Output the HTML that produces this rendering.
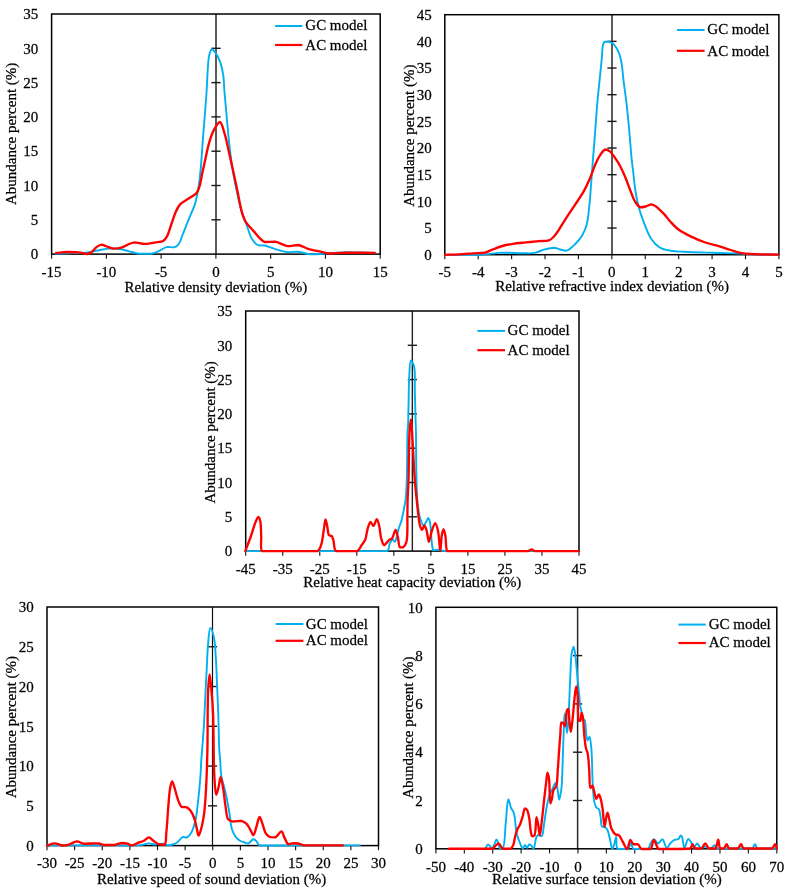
<!DOCTYPE html>
<html><head><meta charset="utf-8"><style>
html,body{margin:0;padding:0;background:#fff;width:794px;height:889px;overflow:hidden}
svg{display:block;will-change:transform}
text{font-family:"Liberation Serif", serif;font-size:15px;fill:#000;stroke:#000;stroke-width:0.25px}
</style></head><body>
<svg width="794" height="889" viewBox="0 0 794 889">
<line x1="216.00" y1="14.00" x2="216.00" y2="254.10" stroke="#5c5c5c" stroke-width="2.0"/>
<line x1="211.40" y1="219.80" x2="220.60" y2="219.80" stroke="#1a1a1a" stroke-width="1.4"/>
<line x1="211.40" y1="185.50" x2="220.60" y2="185.50" stroke="#1a1a1a" stroke-width="1.4"/>
<line x1="211.40" y1="151.20" x2="220.60" y2="151.20" stroke="#1a1a1a" stroke-width="1.4"/>
<line x1="211.40" y1="116.90" x2="220.60" y2="116.90" stroke="#1a1a1a" stroke-width="1.4"/>
<line x1="211.40" y1="82.60" x2="220.60" y2="82.60" stroke="#1a1a1a" stroke-width="1.4"/>
<line x1="211.40" y1="48.30" x2="220.60" y2="48.30" stroke="#1a1a1a" stroke-width="1.4"/>
<line x1="51.60" y1="254.10" x2="51.60" y2="258.70" stroke="#111" stroke-width="1.1"/>
<line x1="106.37" y1="254.10" x2="106.37" y2="258.70" stroke="#111" stroke-width="1.1"/>
<line x1="161.13" y1="254.10" x2="161.13" y2="258.70" stroke="#111" stroke-width="1.1"/>
<line x1="215.90" y1="254.10" x2="215.90" y2="258.70" stroke="#111" stroke-width="1.1"/>
<line x1="270.67" y1="254.10" x2="270.67" y2="258.70" stroke="#111" stroke-width="1.1"/>
<line x1="325.43" y1="254.10" x2="325.43" y2="258.70" stroke="#111" stroke-width="1.1"/>
<line x1="380.20" y1="254.10" x2="380.20" y2="258.70" stroke="#111" stroke-width="1.1"/>
<rect x="51.60" y="14.00" width="328.60" height="240.10" fill="none" stroke="#000" stroke-width="1.5"/>
<path d="M56.20,253.90 C61.70,253.63 67.36,253.36 72.70,253.10 C77.74,252.86 82.96,252.92 87.40,252.40 C91.13,251.97 94.20,251.13 97.60,250.50 C101.00,249.87 104.39,248.88 107.80,248.60 C111.19,248.60 114.53,248.39 118.00,248.80 C121.69,249.24 125.67,250.45 129.30,251.30 C132.69,252.09 135.63,253.28 139.10,253.70 C142.89,253.70 147.52,253.70 151.20,253.70 C154.48,253.12 157.44,251.61 160.20,250.40 C162.66,249.32 164.66,247.38 167.00,246.90 C169.21,246.90 171.82,247.40 173.80,247.40 C175.56,246.98 177.07,246.14 178.40,244.60 C180.34,242.35 181.32,237.86 182.90,234.00 C184.78,229.42 186.88,223.92 188.90,218.90 C190.91,213.89 193.45,208.89 195.00,203.90 C196.46,199.19 197.22,194.86 198.10,189.80 C199.11,183.98 199.78,178.01 200.50,170.90 C201.43,161.74 202.04,150.49 202.90,139.40 C203.86,127.00 205.35,108.92 206.00,100.00 C206.33,95.42 206.46,93.59 206.70,89.60 C207.02,84.19 207.25,76.50 207.70,70.50 C208.10,65.14 208.23,59.16 209.20,55.30 C209.83,52.78 210.55,49.58 211.70,49.30 C212.67,49.30 214.15,50.84 215.30,52.30 C217.08,54.56 218.99,58.73 220.30,62.40 C221.73,66.41 222.63,71.03 223.30,75.50 C223.98,80.09 223.96,85.26 224.30,89.60 C224.59,93.33 224.83,95.83 225.20,100.00 C225.75,106.28 226.57,115.73 227.30,123.60 C228.03,131.47 228.69,139.33 229.60,147.20 C230.52,155.10 231.49,163.03 232.80,170.90 C234.12,178.80 235.84,187.09 237.50,194.50 C238.99,201.17 240.44,207.78 242.20,213.40 C243.67,218.07 245.42,221.80 247.00,226.00 C248.58,230.20 249.65,235.26 251.70,238.60 C253.35,241.29 255.29,243.89 257.60,245.00 C259.69,246.00 262.13,244.98 264.70,245.50 C267.92,246.15 271.61,248.03 275.30,249.10 C279.22,250.24 283.63,251.70 287.60,252.10 C291.24,252.10 294.56,251.70 298.20,251.70 C302.17,252.05 306.37,254.05 310.50,254.40 C314.60,254.40 318.93,254.05 322.90,253.80 C326.57,253.57 329.83,253.26 333.50,253.00 C337.45,252.72 341.33,252.29 345.80,252.20 C351.14,252.20 358.14,252.45 363.40,252.60 C367.67,252.72 371.13,252.87 375.00,253.00" fill="none" stroke="#00B0F0" stroke-width="1.9" stroke-linejoin="round" stroke-linecap="round"/>
<path d="M56.20,253.00 C59.80,252.67 63.36,252.10 67.00,252.00 C70.72,252.00 74.75,252.03 78.30,252.40 C81.51,252.74 85.02,254.00 87.40,254.00 C89.04,253.79 90.07,253.12 91.40,252.20 C93.11,251.02 94.69,248.40 96.50,247.10 C98.11,245.95 99.88,244.69 101.60,244.60 C103.28,244.60 104.87,245.88 106.70,246.50 C108.79,247.21 111.12,248.38 113.50,248.60 C116.01,248.60 118.82,248.43 121.40,247.70 C124.10,246.94 126.91,244.92 129.30,244.00 C131.19,243.27 132.44,242.56 134.50,242.40 C137.39,242.40 141.45,243.90 145.10,243.90 C149.00,243.89 153.87,242.68 157.20,242.10 C159.55,241.69 161.56,241.88 163.20,240.90 C164.82,239.93 165.83,238.35 167.00,236.30 C168.76,233.21 170.16,227.57 171.60,223.50 C172.91,219.80 173.84,216.16 175.30,212.90 C176.64,209.90 177.86,206.88 179.90,204.60 C181.91,202.36 184.77,201.14 187.40,199.30 C190.31,197.26 194.53,195.42 196.60,192.90 C198.32,190.80 198.84,188.52 199.70,185.80 C200.77,182.41 201.23,178.11 202.10,174.00 C203.05,169.48 204.08,164.76 205.20,159.80 C206.43,154.31 207.62,147.76 209.20,142.50 C210.58,137.92 211.92,133.49 213.90,129.90 C215.60,126.82 218.16,122.00 219.90,122.00 C221.93,122.28 223.47,130.00 224.90,134.60 C226.54,139.88 227.58,146.21 228.90,152.00 C230.21,157.77 231.46,163.18 232.80,169.30 C234.31,176.19 235.94,183.96 237.50,191.30 C239.07,198.66 240.53,207.94 242.20,213.40 C243.23,216.75 243.83,218.68 245.40,221.30 C247.28,224.42 250.27,227.41 253.20,230.60 C256.59,234.28 260.57,240.37 264.70,242.00 C268.04,242.00 271.69,241.70 275.30,241.70 C279.31,242.34 283.60,245.62 287.60,246.10 C291.21,246.10 294.72,245.00 298.20,245.00 C301.79,245.48 305.23,248.03 308.80,249.10 C312.27,250.14 315.79,250.67 319.30,251.40 C322.82,252.13 325.99,253.23 329.90,253.50 C334.65,253.50 339.70,252.75 345.80,252.60 C354.04,252.60 365.20,252.73 374.90,252.80" fill="none" stroke="#FF0000" stroke-width="2.35" stroke-linejoin="round" stroke-linecap="round"/>
<text transform="translate(38.30,259.30) scale(1,1.03)" text-anchor="end">0</text>
<text transform="translate(38.30,225.00) scale(1,1.03)" text-anchor="end">5</text>
<text transform="translate(38.30,190.70) scale(1,1.03)" text-anchor="end">10</text>
<text transform="translate(38.30,156.40) scale(1,1.03)" text-anchor="end">15</text>
<text transform="translate(38.30,122.10) scale(1,1.03)" text-anchor="end">20</text>
<text transform="translate(38.30,87.80) scale(1,1.03)" text-anchor="end">25</text>
<text transform="translate(38.30,53.50) scale(1,1.03)" text-anchor="end">30</text>
<text transform="translate(38.30,19.20) scale(1,1.03)" text-anchor="end">35</text>
<text transform="translate(51.60,276.60) scale(1,1.03)" text-anchor="middle">-15</text>
<text transform="translate(106.37,276.60) scale(1,1.03)" text-anchor="middle">-10</text>
<text transform="translate(161.13,276.60) scale(1,1.03)" text-anchor="middle">-5</text>
<text transform="translate(215.90,276.60) scale(1,1.03)" text-anchor="middle">0</text>
<text transform="translate(270.67,276.60) scale(1,1.03)" text-anchor="middle">5</text>
<text transform="translate(325.43,276.60) scale(1,1.03)" text-anchor="middle">10</text>
<text transform="translate(380.20,276.60) scale(1,1.03)" text-anchor="middle">15</text>
<text transform="translate(215.80,292.20) scale(1,1.03)" text-anchor="middle">Relative density deviation (%)</text>
<text transform="translate(16.40,133.90) rotate(-90) scale(1,1.03)" text-anchor="middle">Abundance percent (%)</text>
<line x1="275.1" y1="26.0" x2="302.3" y2="26.0" stroke="#00B0F0" stroke-width="2.0"/>
<line x1="275.1" y1="45.0" x2="302.3" y2="45.0" stroke="#FF0000" stroke-width="2.2"/>
<text transform="translate(305.3,30.3) scale(1,1.03)">GC model</text>
<text transform="translate(305.3,49.5) scale(1,1.03)">AC model</text>
<line x1="612.00" y1="14.70" x2="612.00" y2="254.70" stroke="#5c5c5c" stroke-width="2.0"/>
<line x1="607.40" y1="228.03" x2="616.60" y2="228.03" stroke="#1a1a1a" stroke-width="1.4"/>
<line x1="607.40" y1="201.37" x2="616.60" y2="201.37" stroke="#1a1a1a" stroke-width="1.4"/>
<line x1="607.40" y1="174.70" x2="616.60" y2="174.70" stroke="#1a1a1a" stroke-width="1.4"/>
<line x1="607.40" y1="148.03" x2="616.60" y2="148.03" stroke="#1a1a1a" stroke-width="1.4"/>
<line x1="607.40" y1="121.37" x2="616.60" y2="121.37" stroke="#1a1a1a" stroke-width="1.4"/>
<line x1="607.40" y1="94.70" x2="616.60" y2="94.70" stroke="#1a1a1a" stroke-width="1.4"/>
<line x1="607.40" y1="68.03" x2="616.60" y2="68.03" stroke="#1a1a1a" stroke-width="1.4"/>
<line x1="607.40" y1="41.37" x2="616.60" y2="41.37" stroke="#1a1a1a" stroke-width="1.4"/>
<line x1="444.80" y1="254.70" x2="444.80" y2="259.30" stroke="#111" stroke-width="1.1"/>
<line x1="478.21" y1="254.70" x2="478.21" y2="259.30" stroke="#111" stroke-width="1.1"/>
<line x1="511.62" y1="254.70" x2="511.62" y2="259.30" stroke="#111" stroke-width="1.1"/>
<line x1="545.03" y1="254.70" x2="545.03" y2="259.30" stroke="#111" stroke-width="1.1"/>
<line x1="578.44" y1="254.70" x2="578.44" y2="259.30" stroke="#111" stroke-width="1.1"/>
<line x1="611.85" y1="254.70" x2="611.85" y2="259.30" stroke="#111" stroke-width="1.1"/>
<line x1="645.26" y1="254.70" x2="645.26" y2="259.30" stroke="#111" stroke-width="1.1"/>
<line x1="678.67" y1="254.70" x2="678.67" y2="259.30" stroke="#111" stroke-width="1.1"/>
<line x1="712.08" y1="254.70" x2="712.08" y2="259.30" stroke="#111" stroke-width="1.1"/>
<line x1="745.49" y1="254.70" x2="745.49" y2="259.30" stroke="#111" stroke-width="1.1"/>
<line x1="778.90" y1="254.70" x2="778.90" y2="259.30" stroke="#111" stroke-width="1.1"/>
<rect x="444.80" y="14.70" width="334.10" height="240.00" fill="none" stroke="#000" stroke-width="1.5"/>
<path d="M445.00,254.90 C456.83,254.87 470.10,255.00 480.50,254.80 C488.69,254.38 495.08,252.85 502.40,252.60 C509.72,252.60 518.46,253.30 524.40,253.30 C528.45,253.29 531.25,253.53 534.60,252.90 C538.05,252.26 541.45,250.28 544.80,249.40 C547.94,248.58 551.37,247.70 554.10,247.70 C556.31,247.83 557.97,249.00 560.00,249.50 C562.10,250.01 564.29,250.70 566.50,250.70 C569.36,250.02 572.67,246.57 575.30,244.00 C577.95,241.41 580.41,238.41 582.30,235.20 C584.21,231.95 585.57,228.75 586.70,224.60 C588.18,219.18 588.67,211.81 589.40,205.20 C590.15,198.33 590.54,191.37 591.10,184.10 C591.70,176.33 592.26,168.31 592.90,160.00 C593.59,151.09 594.38,141.66 595.10,132.30 C595.84,122.70 596.51,112.13 597.30,103.10 C597.99,95.27 598.77,88.51 599.50,81.20 C600.23,73.88 601.06,65.78 601.70,59.20 C602.23,53.84 602.15,47.54 603.10,44.60 C603.56,43.19 603.95,42.18 604.80,41.70 C605.65,41.70 607.01,41.70 608.20,41.70 C609.59,41.93 611.20,42.13 612.60,43.20 C614.71,44.81 617.04,48.75 618.50,51.90 C619.98,55.08 620.61,58.21 621.40,62.20 C622.45,67.54 622.79,74.65 623.60,81.20 C624.47,88.24 625.59,95.27 626.50,103.10 C627.55,112.13 628.53,122.81 629.40,132.30 C630.22,141.32 630.88,151.75 631.60,158.70 C632.07,163.26 632.49,165.73 633.00,170.00 C633.66,175.60 634.22,183.11 635.20,189.40 C636.14,195.43 637.20,201.33 638.70,207.00 C640.15,212.48 641.95,217.66 644.00,222.90 C646.08,228.23 648.15,234.39 651.10,238.70 C653.61,242.36 656.54,245.60 659.90,247.60 C663.06,249.48 666.71,250.00 670.50,250.70 C674.71,251.48 678.75,251.49 684.10,251.80 C691.80,252.25 702.90,252.52 712.30,252.80 C721.70,253.08 732.71,253.21 740.50,253.50 C746.01,253.71 749.31,254.03 754.60,254.20 C761.42,254.41 770.20,254.40 778.00,254.50" fill="none" stroke="#00B0F0" stroke-width="1.9" stroke-linejoin="round" stroke-linecap="round"/>
<path d="M445.00,254.80 C449.53,254.63 453.99,254.54 458.60,254.30 C463.38,254.05 468.60,253.60 473.20,253.30 C477.32,253.04 481.51,253.35 484.90,252.60 C487.68,251.98 489.56,250.70 492.20,249.70 C495.31,248.52 498.96,246.99 502.40,246.00 C505.79,245.03 509.04,244.38 512.70,243.80 C516.79,243.15 521.42,242.83 525.80,242.40 C530.19,241.97 534.93,241.57 539.00,241.20 C542.51,240.88 546.30,241.18 548.80,240.30 C550.59,239.67 551.66,238.73 553.00,237.50 C554.62,236.01 555.89,234.11 557.60,231.70 C560.17,228.08 563.51,222.20 566.50,217.60 C569.41,213.11 572.39,208.86 575.30,204.40 C578.26,199.87 581.57,195.14 584.10,190.60 C586.41,186.45 588.19,182.50 590.00,178.30 C591.83,174.04 593.21,169.23 595.00,165.20 C596.60,161.60 598.19,157.96 600.10,155.20 C601.69,152.91 603.44,149.90 605.30,149.50 C606.85,149.50 608.70,150.43 610.20,151.60 C612.07,153.06 613.58,155.86 615.20,158.20 C616.92,160.70 618.61,163.26 620.20,166.20 C622.00,169.55 623.67,173.42 625.30,177.30 C627.05,181.46 628.59,186.18 630.30,190.40 C631.93,194.40 633.32,199.01 635.30,202.00 C636.81,204.28 638.52,206.67 640.40,207.30 C641.97,207.30 643.75,206.95 645.50,206.50 C647.44,206.00 649.66,204.30 651.50,204.30 C653.13,204.38 654.57,205.53 656.00,206.50 C657.58,207.57 659.05,209.23 660.50,210.60 C661.91,211.93 663.18,213.06 664.60,214.60 C666.33,216.49 667.92,218.93 670.00,221.20 C672.45,223.87 675.20,227.03 678.50,229.50 C682.16,232.23 686.79,234.45 691.20,236.60 C695.72,238.80 700.55,240.86 705.30,242.50 C709.95,244.11 714.97,245.08 719.40,246.40 C723.39,247.59 727.06,248.90 730.70,250.00 C734.07,251.02 736.90,252.11 740.50,252.80 C744.74,253.61 749.27,253.89 754.60,254.20 C761.54,254.60 770.60,254.47 778.60,254.60" fill="none" stroke="#FF0000" stroke-width="2.35" stroke-linejoin="round" stroke-linecap="round"/>
<text transform="translate(431.80,259.90) scale(1,1.03)" text-anchor="end">0</text>
<text transform="translate(431.80,233.23) scale(1,1.03)" text-anchor="end">5</text>
<text transform="translate(431.80,206.57) scale(1,1.03)" text-anchor="end">10</text>
<text transform="translate(431.80,179.90) scale(1,1.03)" text-anchor="end">15</text>
<text transform="translate(431.80,153.23) scale(1,1.03)" text-anchor="end">20</text>
<text transform="translate(431.80,126.57) scale(1,1.03)" text-anchor="end">25</text>
<text transform="translate(431.80,99.90) scale(1,1.03)" text-anchor="end">30</text>
<text transform="translate(431.80,73.23) scale(1,1.03)" text-anchor="end">35</text>
<text transform="translate(431.80,46.57) scale(1,1.03)" text-anchor="end">40</text>
<text transform="translate(431.80,19.90) scale(1,1.03)" text-anchor="end">45</text>
<text transform="translate(444.80,277.00) scale(1,1.03)" text-anchor="middle">-5</text>
<text transform="translate(478.21,277.00) scale(1,1.03)" text-anchor="middle">-4</text>
<text transform="translate(511.62,277.00) scale(1,1.03)" text-anchor="middle">-3</text>
<text transform="translate(545.03,277.00) scale(1,1.03)" text-anchor="middle">-2</text>
<text transform="translate(578.44,277.00) scale(1,1.03)" text-anchor="middle">-1</text>
<text transform="translate(611.85,277.00) scale(1,1.03)" text-anchor="middle">0</text>
<text transform="translate(645.26,277.00) scale(1,1.03)" text-anchor="middle">1</text>
<text transform="translate(678.67,277.00) scale(1,1.03)" text-anchor="middle">2</text>
<text transform="translate(712.08,277.00) scale(1,1.03)" text-anchor="middle">3</text>
<text transform="translate(745.49,277.00) scale(1,1.03)" text-anchor="middle">4</text>
<text transform="translate(778.90,277.00) scale(1,1.03)" text-anchor="middle">5</text>
<text transform="translate(612.10,291.10) scale(1,1.03)" text-anchor="middle">Relative refractive index deviation (%)</text>
<text transform="translate(413.50,135.70) rotate(-90) scale(1,1.03)" text-anchor="middle">Abundance percent (%)</text>
<line x1="676.9" y1="30.0" x2="704.6" y2="30.0" stroke="#00B0F0" stroke-width="2.0"/>
<line x1="676.9" y1="50.8" x2="704.6" y2="50.8" stroke="#FF0000" stroke-width="2.2"/>
<text transform="translate(707.3,34.3) scale(1,1.03)">GC model</text>
<text transform="translate(707.3,55.5) scale(1,1.03)">AC model</text>
<line x1="412.35" y1="311.00" x2="412.35" y2="551.10" stroke="#222" stroke-width="1.4"/>
<line x1="407.75" y1="516.80" x2="416.95" y2="516.80" stroke="#1a1a1a" stroke-width="1.4"/>
<line x1="407.75" y1="482.50" x2="416.95" y2="482.50" stroke="#1a1a1a" stroke-width="1.4"/>
<line x1="407.75" y1="448.20" x2="416.95" y2="448.20" stroke="#1a1a1a" stroke-width="1.4"/>
<line x1="407.75" y1="413.90" x2="416.95" y2="413.90" stroke="#1a1a1a" stroke-width="1.4"/>
<line x1="407.75" y1="379.60" x2="416.95" y2="379.60" stroke="#1a1a1a" stroke-width="1.4"/>
<line x1="407.75" y1="345.30" x2="416.95" y2="345.30" stroke="#1a1a1a" stroke-width="1.4"/>
<line x1="245.70" y1="551.10" x2="245.70" y2="555.70" stroke="#111" stroke-width="1.1"/>
<line x1="282.73" y1="551.10" x2="282.73" y2="555.70" stroke="#111" stroke-width="1.1"/>
<line x1="319.77" y1="551.10" x2="319.77" y2="555.70" stroke="#111" stroke-width="1.1"/>
<line x1="356.80" y1="551.10" x2="356.80" y2="555.70" stroke="#111" stroke-width="1.1"/>
<line x1="393.83" y1="551.10" x2="393.83" y2="555.70" stroke="#111" stroke-width="1.1"/>
<line x1="430.87" y1="551.10" x2="430.87" y2="555.70" stroke="#111" stroke-width="1.1"/>
<line x1="467.90" y1="551.10" x2="467.90" y2="555.70" stroke="#111" stroke-width="1.1"/>
<line x1="504.93" y1="551.10" x2="504.93" y2="555.70" stroke="#111" stroke-width="1.1"/>
<line x1="541.97" y1="551.10" x2="541.97" y2="555.70" stroke="#111" stroke-width="1.1"/>
<line x1="579.00" y1="551.10" x2="579.00" y2="555.70" stroke="#111" stroke-width="1.1"/>
<rect x="245.70" y="311.00" width="333.30" height="240.10" fill="none" stroke="#000" stroke-width="1.5"/>
<path d="M245.40,551.10 C292.60,551.10 374.74,551.10 387.00,551.10 C389.93,549.06 388.70,545.57 389.80,543.50 C390.66,541.88 391.76,539.56 392.70,539.50 C393.45,539.50 394.22,541.80 394.90,541.80 C396.24,541.47 397.12,533.70 398.30,529.90 C399.40,526.36 400.67,523.57 401.70,519.70 C403.00,514.79 404.48,505.93 405.10,502.70 C405.35,501.41 405.44,501.32 405.60,500.00 C406.04,496.42 406.49,488.17 406.80,480.00 C407.29,467.09 407.13,436.81 407.60,430.00 C407.72,428.24 407.88,428.32 408.00,426.70 C408.32,422.29 408.40,410.16 408.60,401.90 C408.80,393.66 408.73,384.63 409.20,377.20 C409.59,371.05 409.69,360.61 410.90,360.40 C411.71,360.40 413.46,364.18 414.20,367.20 C415.47,372.40 414.61,381.87 414.80,389.50 C415.01,397.55 415.19,406.97 415.40,414.30 C415.56,420.13 415.75,423.29 415.90,430.00 C416.16,441.97 416.09,466.58 416.50,480.00 C416.77,489.04 416.91,495.97 417.60,502.70 C418.16,508.15 418.72,513.32 419.90,517.40 C420.80,520.51 422.07,525.12 423.30,525.30 C424.18,525.30 425.25,523.11 426.10,521.90 C426.96,520.68 427.75,518.00 428.40,518.00 C429.11,518.07 429.63,520.82 430.10,523.10 C431.00,527.42 431.05,537.30 431.80,542.30 C432.29,545.56 432.10,549.32 433.50,550.30 C434.54,550.30 436.35,549.70 438.00,549.70 C440.04,549.77 441.07,550.72 444.80,551.10 C461.14,551.10 533.60,551.10 578.00,551.10" fill="none" stroke="#00B0F0" stroke-width="1.9" stroke-linejoin="round" stroke-linecap="round"/>
<path d="M245.30,551.10 C247.07,546.40 248.88,541.85 250.60,537.00 C252.41,531.90 254.26,524.78 255.90,521.20 C256.81,519.22 257.76,516.80 258.50,516.80 C259.22,516.85 259.86,519.27 260.30,521.20 C261.06,524.53 260.92,530.47 261.20,535.30 C261.49,540.42 260.07,549.27 262.00,551.10 C263.03,551.10 264.19,551.10 266.50,551.10 C274.30,551.10 310.70,551.10 317.60,551.10 C320.16,549.62 320.16,547.58 321.10,545.00 C322.49,541.19 323.02,534.57 323.80,530.00 C324.45,526.16 324.85,519.43 325.50,519.40 C326.04,519.40 326.74,524.00 327.30,526.50 C327.92,529.27 327.77,533.94 329.00,535.30 C329.69,536.06 330.99,535.45 331.70,536.10 C332.63,536.95 332.91,538.76 333.50,540.60 C334.38,543.35 333.49,549.06 336.10,551.10 C339.75,551.10 353.12,551.10 357.30,551.10 C359.79,549.83 360.34,546.98 361.70,545.00 C362.95,543.18 364.26,541.91 365.20,539.70 C366.48,536.69 366.75,531.40 367.80,528.20 C368.60,525.77 369.47,522.12 370.50,522.00 C371.37,522.00 372.46,525.90 373.40,525.90 C374.58,525.80 375.83,519.10 376.80,519.10 C377.71,519.15 378.44,522.79 379.10,525.30 C380.05,528.92 380.20,535.29 381.30,538.90 C382.08,541.46 383.09,545.01 384.20,545.20 C385.05,545.20 386.06,543.25 387.00,542.30 C387.93,541.35 388.85,540.17 389.80,539.50 C390.56,538.96 391.39,539.16 392.10,538.40 C393.44,536.97 394.51,529.90 395.50,529.90 C396.38,529.92 397.11,534.15 397.80,536.70 C398.65,539.84 398.51,546.19 400.00,547.40 C400.77,547.40 402.01,547.40 402.90,547.40 C404.19,546.71 405.47,544.85 406.30,542.30 C408.08,536.81 407.19,521.79 407.40,514.00 C407.55,508.52 407.45,505.08 407.60,500.00 C407.78,493.92 408.23,488.17 408.50,480.00 C408.93,467.09 408.85,440.53 409.60,430.00 C409.95,425.11 410.52,419.30 410.90,419.30 C411.28,419.31 411.53,425.12 411.90,430.00 C412.70,440.54 413.81,467.09 414.80,480.00 C415.43,488.17 416.17,494.78 416.70,500.00 C417.04,503.37 417.20,505.05 417.60,508.30 C418.17,512.96 418.76,521.48 419.90,525.30 C420.52,527.38 421.35,529.89 422.10,529.90 C422.85,529.90 423.66,525.30 424.40,525.30 C425.20,525.33 426.03,528.76 426.70,531.00 C427.60,534.00 428.05,541.77 428.90,541.80 C429.75,541.80 430.66,534.28 431.80,531.00 C432.80,528.12 434.16,523.10 435.20,523.10 C436.23,523.13 437.24,527.71 438.00,531.00 C439.18,536.11 439.64,551.10 440.30,551.10 C440.88,551.09 441.06,539.33 441.80,535.30 C442.27,532.73 442.92,529.10 443.50,529.10 C444.08,529.10 444.78,532.73 445.30,535.30 C446.11,539.33 445.87,550.00 447.10,551.10 C447.42,551.10 447.54,551.10 448.20,551.10 C453.79,551.10 518.64,551.10 528.00,551.10 C530.11,550.64 530.51,549.40 531.70,549.40 C532.84,549.43 533.19,550.66 535.00,551.10 C541.20,551.10 564.07,551.10 578.60,551.10" fill="none" stroke="#FF0000" stroke-width="2.35" stroke-linejoin="round" stroke-linecap="round"/>
<text transform="translate(232.30,556.30) scale(1,1.03)" text-anchor="end">0</text>
<text transform="translate(232.30,522.00) scale(1,1.03)" text-anchor="end">5</text>
<text transform="translate(232.30,487.70) scale(1,1.03)" text-anchor="end">10</text>
<text transform="translate(232.30,453.40) scale(1,1.03)" text-anchor="end">15</text>
<text transform="translate(232.30,419.10) scale(1,1.03)" text-anchor="end">20</text>
<text transform="translate(232.30,384.80) scale(1,1.03)" text-anchor="end">25</text>
<text transform="translate(232.30,350.50) scale(1,1.03)" text-anchor="end">30</text>
<text transform="translate(232.30,316.20) scale(1,1.03)" text-anchor="end">35</text>
<text transform="translate(245.70,573.60) scale(1,1.03)" text-anchor="middle">-45</text>
<text transform="translate(282.73,573.60) scale(1,1.03)" text-anchor="middle">-35</text>
<text transform="translate(319.77,573.60) scale(1,1.03)" text-anchor="middle">-25</text>
<text transform="translate(356.80,573.60) scale(1,1.03)" text-anchor="middle">-15</text>
<text transform="translate(393.83,573.60) scale(1,1.03)" text-anchor="middle">-5</text>
<text transform="translate(430.87,573.60) scale(1,1.03)" text-anchor="middle">5</text>
<text transform="translate(467.90,573.60) scale(1,1.03)" text-anchor="middle">15</text>
<text transform="translate(504.93,573.60) scale(1,1.03)" text-anchor="middle">25</text>
<text transform="translate(541.97,573.60) scale(1,1.03)" text-anchor="middle">35</text>
<text transform="translate(579.00,573.60) scale(1,1.03)" text-anchor="middle">45</text>
<text transform="translate(412.30,587.00) scale(1,1.03)" text-anchor="middle">Relative heat capacity deviation (%)</text>
<text transform="translate(215.40,432.40) rotate(-90) scale(1,1.03)" text-anchor="middle">Abundance percent (%)</text>
<line x1="477.4" y1="330.9" x2="505.0" y2="330.9" stroke="#00B0F0" stroke-width="2.0"/>
<line x1="477.4" y1="350.2" x2="505.0" y2="350.2" stroke="#FF0000" stroke-width="2.2"/>
<text transform="translate(507.6,335.1) scale(1,1.03)">GC model</text>
<text transform="translate(507.6,355.0) scale(1,1.03)">AC model</text>
<line x1="212.50" y1="607.00" x2="212.50" y2="845.60" stroke="#111" stroke-width="1.2"/>
<line x1="207.90" y1="805.83" x2="217.10" y2="805.83" stroke="#1a1a1a" stroke-width="1.4"/>
<line x1="207.90" y1="766.07" x2="217.10" y2="766.07" stroke="#1a1a1a" stroke-width="1.4"/>
<line x1="207.90" y1="726.30" x2="217.10" y2="726.30" stroke="#1a1a1a" stroke-width="1.4"/>
<line x1="207.90" y1="686.53" x2="217.10" y2="686.53" stroke="#1a1a1a" stroke-width="1.4"/>
<line x1="207.90" y1="646.77" x2="217.10" y2="646.77" stroke="#1a1a1a" stroke-width="1.4"/>
<line x1="47.00" y1="845.60" x2="47.00" y2="850.20" stroke="#111" stroke-width="1.1"/>
<line x1="74.62" y1="845.60" x2="74.62" y2="850.20" stroke="#111" stroke-width="1.1"/>
<line x1="102.25" y1="845.60" x2="102.25" y2="850.20" stroke="#111" stroke-width="1.1"/>
<line x1="129.88" y1="845.60" x2="129.88" y2="850.20" stroke="#111" stroke-width="1.1"/>
<line x1="157.50" y1="845.60" x2="157.50" y2="850.20" stroke="#111" stroke-width="1.1"/>
<line x1="185.12" y1="845.60" x2="185.12" y2="850.20" stroke="#111" stroke-width="1.1"/>
<line x1="212.75" y1="845.60" x2="212.75" y2="850.20" stroke="#111" stroke-width="1.1"/>
<line x1="240.38" y1="845.60" x2="240.38" y2="850.20" stroke="#111" stroke-width="1.1"/>
<line x1="268.00" y1="845.60" x2="268.00" y2="850.20" stroke="#111" stroke-width="1.1"/>
<line x1="295.62" y1="845.60" x2="295.62" y2="850.20" stroke="#111" stroke-width="1.1"/>
<line x1="323.25" y1="845.60" x2="323.25" y2="850.20" stroke="#111" stroke-width="1.1"/>
<line x1="350.88" y1="845.60" x2="350.88" y2="850.20" stroke="#111" stroke-width="1.1"/>
<line x1="378.50" y1="845.60" x2="378.50" y2="850.20" stroke="#111" stroke-width="1.1"/>
<rect x="47.00" y="607.00" width="331.50" height="238.60" fill="none" stroke="#000" stroke-width="1.5"/>
<path d="M47.00,845.40 C63.33,845.33 80.11,845.25 96.00,845.20 C111.06,845.15 130.96,845.90 140.00,845.10 C144.08,844.70 146.11,843.42 148.80,843.40 C151.07,843.40 152.90,844.41 155.10,844.50 C157.51,844.50 160.35,843.80 162.70,843.80 C164.78,843.95 166.72,845.14 168.50,845.20 C170.01,845.20 171.27,844.97 172.70,844.50 C174.36,843.95 176.19,843.07 177.80,841.90 C179.58,840.60 181.10,837.45 182.80,836.90 C184.05,836.90 185.36,837.50 186.60,837.50 C188.33,836.88 190.23,834.27 191.60,831.90 C193.34,828.90 194.40,824.76 195.40,820.50 C196.62,815.32 197.13,809.44 197.90,802.90 C198.86,794.72 199.92,783.03 200.50,775.20 C200.92,769.44 200.92,766.05 201.30,760.20 C201.84,751.95 202.96,740.48 203.60,730.40 C204.26,720.03 204.67,709.32 205.20,698.80 C205.73,688.29 206.28,677.05 206.80,667.30 C207.25,658.84 207.41,650.68 208.10,643.60 C208.66,637.82 209.14,628.03 210.30,627.90 C211.23,627.90 213.00,633.43 213.90,637.30 C215.23,643.04 215.39,651.90 215.90,659.40 C216.43,667.16 216.63,674.64 217.00,683.10 C217.43,692.85 217.92,703.79 218.30,714.60 C218.70,726.05 218.82,741.76 219.30,750.00 C219.56,754.43 219.91,756.47 220.20,760.20 C220.55,764.72 220.39,770.04 221.20,775.20 C222.09,780.87 224.27,786.71 225.60,792.80 C227.02,799.28 228.31,806.62 229.40,813.00 C230.38,818.72 230.52,824.98 231.90,829.30 C232.89,832.40 234.17,834.91 235.70,836.90 C236.96,838.53 238.55,839.84 240.00,840.70 C241.19,841.40 242.33,841.56 243.60,842.00 C245.01,842.49 246.61,843.50 248.10,843.50 C249.88,843.18 251.86,839.27 253.40,839.20 C254.52,839.20 255.46,840.32 256.40,841.20 C257.52,842.26 257.47,844.29 259.50,845.30 C265.18,845.90 285.19,845.38 300.00,845.40 C318.00,845.40 339.87,845.40 359.80,845.40" fill="none" stroke="#00B0F0" stroke-width="1.9" stroke-linejoin="round" stroke-linecap="round"/>
<path d="M47.30,845.50 C49.80,844.77 52.29,843.30 54.80,843.30 C57.32,843.30 59.97,845.33 62.40,845.50 C64.58,845.50 66.50,845.18 68.70,844.60 C71.29,843.92 74.27,841.47 76.90,841.40 C79.29,841.40 81.12,843.31 83.80,843.70 C87.33,843.70 93.78,843.30 96.40,843.30 C97.59,843.33 98.00,843.32 99.00,843.50 C100.43,843.76 102.09,844.71 104.10,845.00 C106.85,845.00 110.96,845.00 114.10,845.00 C116.96,844.65 119.81,843.12 122.20,843.00 C124.06,843.00 125.54,843.31 127.20,843.70 C128.91,844.10 130.55,845.40 132.30,845.40 C134.24,845.30 136.36,843.46 138.30,842.70 C140.05,842.02 141.72,841.81 143.40,841.00 C145.26,840.10 147.17,837.40 148.90,837.40 C150.49,837.44 151.84,839.60 153.40,840.70 C155.04,841.86 156.64,843.54 158.50,844.20 C160.34,844.86 163.14,844.70 164.50,844.70 C166.50,843.12 165.84,836.89 166.40,831.90 C167.18,824.92 167.61,814.49 168.30,806.70 C168.89,799.94 169.29,792.38 170.20,787.80 C170.74,785.10 171.37,781.53 172.10,781.50 C172.84,781.50 173.78,785.37 174.60,787.80 C175.68,791.00 176.51,795.76 177.80,799.10 C178.90,801.94 179.83,805.45 181.60,806.70 C182.97,807.66 185.13,806.66 186.60,807.30 C188.06,807.93 189.26,809.06 190.40,810.50 C191.88,812.37 193.18,815.25 194.20,818.00 C195.34,821.06 195.92,824.98 196.70,828.10 C197.37,830.79 197.82,835.56 198.60,835.60 C199.46,835.60 200.83,830.10 201.70,826.80 C202.77,822.75 203.52,818.31 204.20,813.00 C205.11,805.88 205.59,797.05 206.10,787.80 C206.72,776.48 207.08,764.00 207.40,750.00 C207.80,732.49 207.40,704.51 208.10,690.90 C208.47,683.69 209.03,674.41 209.60,674.40 C210.17,674.40 210.95,684.90 211.50,690.90 C212.16,698.08 212.68,704.87 213.10,714.60 C213.78,730.14 213.44,760.59 214.30,775.20 C214.79,783.51 215.19,794.60 216.20,794.70 C216.87,794.70 217.98,789.34 218.70,786.50 C219.46,783.49 219.90,777.11 220.60,777.10 C221.35,777.10 222.35,783.71 223.10,787.80 C224.08,793.19 224.64,801.05 225.60,806.70 C226.38,811.34 226.32,816.93 228.20,819.30 C229.43,820.85 231.28,821.28 233.20,821.60 C235.53,821.60 238.95,820.80 241.30,820.80 C243.33,821.23 245.12,822.38 246.60,823.80 C248.21,825.34 249.23,827.93 250.40,829.90 C251.48,831.72 252.48,835.20 253.40,835.20 C254.52,835.10 255.42,829.72 256.40,826.80 C257.45,823.67 258.39,817.06 259.50,817.00 C260.44,817.00 261.56,821.34 262.50,823.80 C263.57,826.59 264.10,830.63 265.50,832.90 C266.54,834.60 267.73,835.94 269.30,836.70 C270.96,837.50 273.43,837.40 275.30,837.40 C277.52,836.64 279.85,831.40 281.40,831.40 C282.78,831.63 283.32,835.35 284.40,837.40 C285.57,839.61 286.47,843.39 288.20,844.20 C289.64,844.20 291.80,843.30 293.50,843.20 C295.06,843.20 296.40,843.21 298.00,843.50 C299.90,843.84 301.14,844.87 304.10,845.30 C311.39,845.30 329.90,845.30 342.80,845.30" fill="none" stroke="#FF0000" stroke-width="2.35" stroke-linejoin="round" stroke-linecap="round"/>
<text transform="translate(33.80,850.80) scale(1,1.03)" text-anchor="end">0</text>
<text transform="translate(33.80,811.03) scale(1,1.03)" text-anchor="end">5</text>
<text transform="translate(33.80,771.27) scale(1,1.03)" text-anchor="end">10</text>
<text transform="translate(33.80,731.50) scale(1,1.03)" text-anchor="end">15</text>
<text transform="translate(33.80,691.73) scale(1,1.03)" text-anchor="end">20</text>
<text transform="translate(33.80,651.97) scale(1,1.03)" text-anchor="end">25</text>
<text transform="translate(33.80,612.20) scale(1,1.03)" text-anchor="end">30</text>
<text transform="translate(47.00,868.00) scale(1,1.03)" text-anchor="middle">-30</text>
<text transform="translate(74.62,868.00) scale(1,1.03)" text-anchor="middle">-25</text>
<text transform="translate(102.25,868.00) scale(1,1.03)" text-anchor="middle">-20</text>
<text transform="translate(129.88,868.00) scale(1,1.03)" text-anchor="middle">-15</text>
<text transform="translate(157.50,868.00) scale(1,1.03)" text-anchor="middle">-10</text>
<text transform="translate(185.12,868.00) scale(1,1.03)" text-anchor="middle">-5</text>
<text transform="translate(212.75,868.00) scale(1,1.03)" text-anchor="middle">0</text>
<text transform="translate(240.38,868.00) scale(1,1.03)" text-anchor="middle">5</text>
<text transform="translate(268.00,868.00) scale(1,1.03)" text-anchor="middle">10</text>
<text transform="translate(295.62,868.00) scale(1,1.03)" text-anchor="middle">15</text>
<text transform="translate(323.25,868.00) scale(1,1.03)" text-anchor="middle">20</text>
<text transform="translate(350.88,868.00) scale(1,1.03)" text-anchor="middle">25</text>
<text transform="translate(378.50,868.00) scale(1,1.03)" text-anchor="middle">30</text>
<text transform="translate(211.60,883.50) scale(1,1.03)" text-anchor="middle">Relative speed of sound deviation (%)</text>
<text transform="translate(16.40,727.10) rotate(-90) scale(1,1.03)" text-anchor="middle">Abundance percent (%)</text>
<line x1="275.6" y1="624.0" x2="303.4" y2="624.0" stroke="#00B0F0" stroke-width="2.0"/>
<line x1="275.6" y1="640.8" x2="303.4" y2="640.8" stroke="#FF0000" stroke-width="2.2"/>
<text transform="translate(305.8,628.7) scale(1,1.03)">GC model</text>
<text transform="translate(305.8,645.4) scale(1,1.03)">AC model</text>
<line x1="577.60" y1="607.30" x2="577.60" y2="848.80" stroke="#2a2a2a" stroke-width="1.5"/>
<line x1="573.00" y1="800.50" x2="582.20" y2="800.50" stroke="#1a1a1a" stroke-width="1.4"/>
<line x1="573.00" y1="752.20" x2="582.20" y2="752.20" stroke="#1a1a1a" stroke-width="1.4"/>
<line x1="573.00" y1="703.90" x2="582.20" y2="703.90" stroke="#1a1a1a" stroke-width="1.4"/>
<line x1="573.00" y1="655.60" x2="582.20" y2="655.60" stroke="#1a1a1a" stroke-width="1.4"/>
<line x1="435.90" y1="848.80" x2="435.90" y2="853.40" stroke="#111" stroke-width="1.1"/>
<line x1="464.31" y1="848.80" x2="464.31" y2="853.40" stroke="#111" stroke-width="1.1"/>
<line x1="492.72" y1="848.80" x2="492.72" y2="853.40" stroke="#111" stroke-width="1.1"/>
<line x1="521.12" y1="848.80" x2="521.12" y2="853.40" stroke="#111" stroke-width="1.1"/>
<line x1="549.53" y1="848.80" x2="549.53" y2="853.40" stroke="#111" stroke-width="1.1"/>
<line x1="577.94" y1="848.80" x2="577.94" y2="853.40" stroke="#111" stroke-width="1.1"/>
<line x1="606.35" y1="848.80" x2="606.35" y2="853.40" stroke="#111" stroke-width="1.1"/>
<line x1="634.76" y1="848.80" x2="634.76" y2="853.40" stroke="#111" stroke-width="1.1"/>
<line x1="663.17" y1="848.80" x2="663.17" y2="853.40" stroke="#111" stroke-width="1.1"/>
<line x1="691.57" y1="848.80" x2="691.57" y2="853.40" stroke="#111" stroke-width="1.1"/>
<line x1="719.98" y1="848.80" x2="719.98" y2="853.40" stroke="#111" stroke-width="1.1"/>
<line x1="748.39" y1="848.80" x2="748.39" y2="853.40" stroke="#111" stroke-width="1.1"/>
<line x1="776.80" y1="848.80" x2="776.80" y2="853.40" stroke="#111" stroke-width="1.1"/>
<rect x="435.90" y="607.30" width="340.90" height="241.50" fill="none" stroke="#000" stroke-width="1.5"/>
<path d="M485.40,848.70 C486.23,847.27 487.00,844.58 487.90,844.40 C488.54,844.40 489.28,845.26 489.90,845.90 C490.63,846.65 491.22,848.70 491.90,848.70 C492.72,848.66 493.65,845.91 494.40,844.40 C495.19,842.82 495.84,839.42 496.50,839.40 C497.02,839.40 497.51,841.21 498.00,842.40 C498.68,844.04 498.90,847.61 500.00,848.40 C500.72,848.40 501.94,848.40 502.70,848.40 C505.08,846.29 504.84,830.74 505.80,822.30 C506.70,814.37 507.08,799.32 508.30,799.20 C509.08,799.20 510.08,805.90 511.10,808.10 C511.76,809.52 512.64,810.13 513.20,811.40 C513.85,812.87 514.16,814.27 514.60,816.50 C515.41,820.57 515.60,828.99 516.80,834.00 C517.74,837.95 519.35,841.61 520.50,844.30 C521.27,846.10 521.94,848.67 522.70,848.70 C523.41,848.70 524.15,845.03 524.90,845.00 C525.59,845.00 526.31,847.90 527.00,847.90 C527.75,847.87 528.36,844.50 529.20,844.30 C529.86,844.30 530.72,845.06 531.40,845.70 C532.21,846.46 532.94,848.70 533.60,848.70 C534.79,848.46 535.22,839.27 536.50,837.00 C537.15,835.85 537.85,834.95 538.70,834.80 C539.58,834.80 540.91,836.20 541.70,836.20 C543.14,835.47 543.17,829.44 543.90,825.30 C544.87,819.85 545.69,811.85 546.80,806.30 C547.68,801.91 548.54,797.79 549.70,794.60 C550.56,792.25 551.61,790.65 552.60,788.70 C553.58,786.75 554.77,782.90 555.60,782.90 C556.50,782.99 557.12,787.59 557.70,790.20 C558.35,793.14 558.61,799.69 559.20,799.70 C559.83,799.70 560.85,793.13 561.40,788.70 C562.21,782.11 562.25,772.53 562.60,763.90 C562.99,754.49 563.21,743.39 563.60,734.40 C563.93,726.83 564.14,713.53 564.70,713.50 C565.03,713.50 565.55,718.12 565.90,720.90 C566.35,724.45 566.61,733.10 567.00,733.10 C567.35,733.10 567.79,727.19 568.10,723.60 C568.50,718.94 568.69,713.85 569.00,707.50 C569.45,698.30 569.88,683.52 570.40,673.70 C570.80,666.10 570.90,658.42 571.70,653.50 C572.17,650.60 572.93,646.70 573.50,646.70 C574.07,646.71 574.62,650.61 575.10,653.50 C575.92,658.42 576.43,666.96 577.10,673.70 C577.77,680.46 578.49,687.92 579.10,694.00 C579.60,698.96 579.90,704.05 580.50,707.50 C580.88,709.69 581.39,710.84 581.80,712.80 C582.30,715.21 582.34,720.52 583.20,720.90 C583.59,720.90 584.20,720.00 584.60,720.00 C585.78,720.56 585.64,730.83 586.30,734.60 C586.73,737.02 587.09,740.43 587.70,740.50 C588.20,740.50 588.99,736.80 589.50,736.80 C590.40,736.94 590.90,743.96 591.40,749.20 C592.25,758.16 592.16,776.08 592.80,785.80 C593.22,792.26 593.38,797.92 594.30,801.90 C594.87,804.37 595.50,806.53 596.50,807.70 C597.15,808.46 598.18,808.16 598.80,809.00 C599.94,810.55 600.17,814.86 600.70,817.80 C601.23,820.72 600.75,825.29 602.00,826.60 C602.74,827.38 604.21,826.65 605.10,827.20 C606.11,827.82 606.88,828.94 607.60,830.40 C608.76,832.75 609.37,837.28 610.20,840.50 C610.96,843.46 611.60,848.96 612.40,849.00 C613.08,849.00 613.97,845.04 614.60,843.00 C615.24,840.94 615.74,836.70 616.20,836.70 C616.84,836.74 615.50,847.05 617.70,849.00 C619.68,849.00 625.59,849.00 627.80,849.00 C629.61,847.90 629.94,843.00 630.90,843.00 C631.84,843.03 631.68,847.81 633.50,849.00 C636.20,849.00 645.20,849.00 647.90,849.00 C649.64,847.91 649.43,845.25 650.50,843.60 C651.54,841.99 652.95,839.21 654.20,839.20 C655.45,839.20 656.66,843.55 658.00,843.60 C659.39,843.60 661.07,839.20 662.40,839.20 C664.08,839.47 665.27,847.86 666.80,848.00 C668.02,848.00 669.25,844.42 670.60,843.00 C671.80,841.74 673.04,840.42 674.40,839.80 C675.60,839.25 677.17,839.86 678.20,839.20 C679.32,838.48 679.97,835.49 680.70,835.40 C681.14,835.40 681.52,835.85 681.90,836.50 C682.91,838.25 683.27,847.79 684.40,847.90 C685.42,847.90 686.83,839.19 688.20,839.00 C689.18,839.00 690.38,841.39 691.30,842.80 C692.30,844.33 692.93,847.83 693.90,847.90 C694.84,847.90 695.88,843.56 697.00,843.50 C698.17,843.50 699.33,847.47 700.80,847.90 C702.11,847.90 703.70,846.60 705.20,846.60 C706.82,846.66 708.64,848.50 710.20,848.50 C711.77,848.29 713.29,845.30 714.60,845.30 C715.80,845.39 715.91,847.72 717.80,848.50 C722.99,848.50 747.02,848.50 752.00,848.50 C753.96,847.45 753.98,844.10 754.90,844.10 C755.81,844.12 755.81,847.53 757.50,848.50 C760.76,848.50 770.17,848.50 776.50,848.50" fill="none" stroke="#00B0F0" stroke-width="1.9" stroke-linejoin="round" stroke-linecap="round"/>
<path d="M449.10,848.70 C463.53,848.70 486.52,848.70 492.40,848.70 C494.21,847.99 494.38,846.79 495.40,845.90 C496.41,845.02 497.56,843.40 498.50,843.40 C499.43,843.49 500.21,845.47 501.00,846.40 C501.70,847.22 501.97,848.23 503.00,848.70 C504.63,848.70 508.87,848.70 510.60,848.70 C511.87,848.07 512.40,846.89 513.10,845.40 C514.20,843.06 514.59,838.45 515.40,835.50 C516.07,833.06 516.67,830.73 517.50,828.90 C518.15,827.47 518.99,826.81 519.70,825.30 C520.75,823.05 521.82,819.38 522.70,816.50 C523.54,813.78 523.82,808.90 524.90,808.50 C525.49,808.50 526.41,809.07 527.00,809.90 C528.08,811.41 528.62,814.95 529.20,818.00 C529.93,821.82 530.02,827.77 530.70,831.10 C531.13,833.22 531.33,835.74 532.20,836.20 C532.77,836.20 533.79,836.24 534.40,835.50 C536.11,833.42 535.68,817.24 536.50,817.20 C537.05,817.20 537.77,822.43 538.30,825.30 C538.89,828.49 539.27,835.50 539.80,835.50 C540.40,835.50 541.09,827.18 541.70,822.30 C542.46,816.24 543.15,808.58 543.90,801.90 C544.62,795.45 545.42,788.27 546.10,782.90 C546.60,778.94 546.93,772.63 547.50,772.60 C547.94,772.60 548.59,775.83 549.00,778.50 C549.83,783.89 549.45,803.17 550.40,803.30 C550.81,803.30 551.46,800.63 551.90,798.90 C552.51,796.51 552.48,792.53 553.40,790.20 C554.11,788.40 555.59,787.81 556.30,785.80 C557.48,782.45 557.26,776.57 557.70,771.20 C558.24,764.62 558.72,755.73 559.20,749.20 C559.58,743.95 559.89,739.60 560.30,735.00 C560.69,730.65 560.39,722.88 561.60,722.30 C562.12,722.30 563.05,723.00 563.60,723.60 C564.22,724.28 564.59,726.30 565.00,726.30 C565.95,726.13 565.89,712.58 567.00,710.20 C567.38,709.38 567.95,708.80 568.30,708.80 C569.19,709.10 568.97,716.99 569.40,720.90 C569.81,724.61 570.30,731.70 570.80,731.70 C571.30,731.70 571.89,725.12 572.40,720.90 C573.12,714.96 573.67,705.65 574.40,699.40 C574.96,694.55 575.60,686.51 576.20,686.50 C576.73,686.50 577.38,692.56 577.80,696.70 C578.44,703.04 577.31,719.38 578.90,720.90 C579.27,720.90 579.84,720.90 580.20,720.90 C581.11,720.13 581.06,712.84 581.60,712.80 C581.99,712.80 582.54,715.03 582.90,716.90 C583.63,720.68 583.65,728.95 584.20,734.40 C584.68,739.20 585.13,744.38 585.90,747.90 C586.41,750.23 587.21,751.18 587.70,753.60 C588.50,757.57 588.75,764.16 589.20,769.70 C589.68,775.60 589.21,787.57 590.50,788.00 C591.02,788.00 591.93,785.70 592.50,785.70 C593.37,785.90 593.75,790.36 594.40,792.60 C595.02,794.75 595.50,798.81 596.30,798.90 C597.00,798.90 598.06,794.50 598.80,794.50 C599.52,794.54 600.15,797.10 600.70,798.90 C601.51,801.54 602.03,805.16 602.60,809.00 C603.35,814.04 603.75,826.57 604.50,826.60 C605.07,826.60 605.76,819.05 606.40,816.50 C606.80,814.91 607.18,812.70 607.60,812.70 C608.19,812.72 608.88,817.72 609.50,820.30 C610.15,822.98 610.36,826.10 611.40,828.50 C612.34,830.67 613.71,833.08 615.20,834.20 C616.34,835.05 617.88,834.51 619.00,835.40 C620.51,836.60 621.39,839.53 622.70,841.70 C624.11,844.05 625.96,849.00 627.20,849.00 C628.52,848.85 629.04,839.99 630.30,839.80 C631.24,839.80 632.14,843.51 633.50,844.20 C634.73,844.20 636.62,844.20 637.90,844.20 C639.40,844.94 639.82,848.12 641.60,849.00 C643.76,849.00 648.50,849.00 650.50,849.00 C652.59,847.50 652.50,839.91 653.60,839.80 C654.40,839.80 655.28,842.69 656.10,844.20 C656.95,845.76 656.74,847.89 658.60,849.00 C663.10,849.00 685.61,849.10 690.10,848.50 C691.90,847.43 691.77,844.10 692.60,844.10 C693.43,844.10 693.77,847.73 695.10,848.50 C696.58,848.50 699.72,848.50 701.40,848.50 C703.08,847.67 703.93,843.50 705.20,843.50 C706.47,843.50 707.32,847.67 709.00,848.50 C710.68,848.50 713.79,848.50 715.30,848.50 C717.13,847.17 717.36,839.70 718.20,839.70 C719.03,839.73 718.84,847.35 720.30,848.50 C721.25,848.50 723.09,848.50 724.10,848.50 C725.27,847.82 725.77,844.10 726.60,844.10 C727.43,844.10 727.67,847.67 729.10,848.50 C730.99,848.50 735.85,848.50 737.90,848.50 C739.51,847.68 740.14,844.10 741.10,844.10 C742.03,844.15 741.83,847.47 743.60,848.50 C747.79,848.50 767.33,848.50 771.90,848.50 C773.90,847.48 774.27,844.10 775.10,844.10 C775.87,844.20 776.23,847.03 776.80,848.50" fill="none" stroke="#FF0000" stroke-width="2.35" stroke-linejoin="round" stroke-linecap="round"/>
<text transform="translate(422.80,854.00) scale(1,1.03)" text-anchor="end">0</text>
<text transform="translate(422.80,805.70) scale(1,1.03)" text-anchor="end">2</text>
<text transform="translate(422.80,757.40) scale(1,1.03)" text-anchor="end">4</text>
<text transform="translate(422.80,709.10) scale(1,1.03)" text-anchor="end">6</text>
<text transform="translate(422.80,660.80) scale(1,1.03)" text-anchor="end">8</text>
<text transform="translate(422.80,612.50) scale(1,1.03)" text-anchor="end">10</text>
<text transform="translate(435.90,872.00) scale(1,1.03)" text-anchor="middle">-50</text>
<text transform="translate(464.31,872.00) scale(1,1.03)" text-anchor="middle">-40</text>
<text transform="translate(492.72,872.00) scale(1,1.03)" text-anchor="middle">-30</text>
<text transform="translate(521.12,872.00) scale(1,1.03)" text-anchor="middle">-20</text>
<text transform="translate(549.53,872.00) scale(1,1.03)" text-anchor="middle">-10</text>
<text transform="translate(577.94,872.00) scale(1,1.03)" text-anchor="middle">0</text>
<text transform="translate(606.35,872.00) scale(1,1.03)" text-anchor="middle">10</text>
<text transform="translate(634.76,872.00) scale(1,1.03)" text-anchor="middle">20</text>
<text transform="translate(663.17,872.00) scale(1,1.03)" text-anchor="middle">30</text>
<text transform="translate(691.57,872.00) scale(1,1.03)" text-anchor="middle">40</text>
<text transform="translate(719.98,872.00) scale(1,1.03)" text-anchor="middle">50</text>
<text transform="translate(748.39,872.00) scale(1,1.03)" text-anchor="middle">60</text>
<text transform="translate(776.80,872.00) scale(1,1.03)" text-anchor="middle">70</text>
<text transform="translate(606.90,883.50) scale(1,1.03)" text-anchor="middle">Relative surface tension deviation (%)</text>
<text transform="translate(413.00,727.60) rotate(-90) scale(1,1.03)" text-anchor="middle">Abundance percent (%)</text>
<line x1="678.4" y1="624.6" x2="705.8" y2="624.6" stroke="#00B0F0" stroke-width="2.0"/>
<line x1="678.4" y1="643.0" x2="705.8" y2="643.0" stroke="#FF0000" stroke-width="2.2"/>
<text transform="translate(708.7,629.2) scale(1,1.03)">GC model</text>
<text transform="translate(708.7,647.0) scale(1,1.03)">AC model</text>
</svg>
</body></html>
